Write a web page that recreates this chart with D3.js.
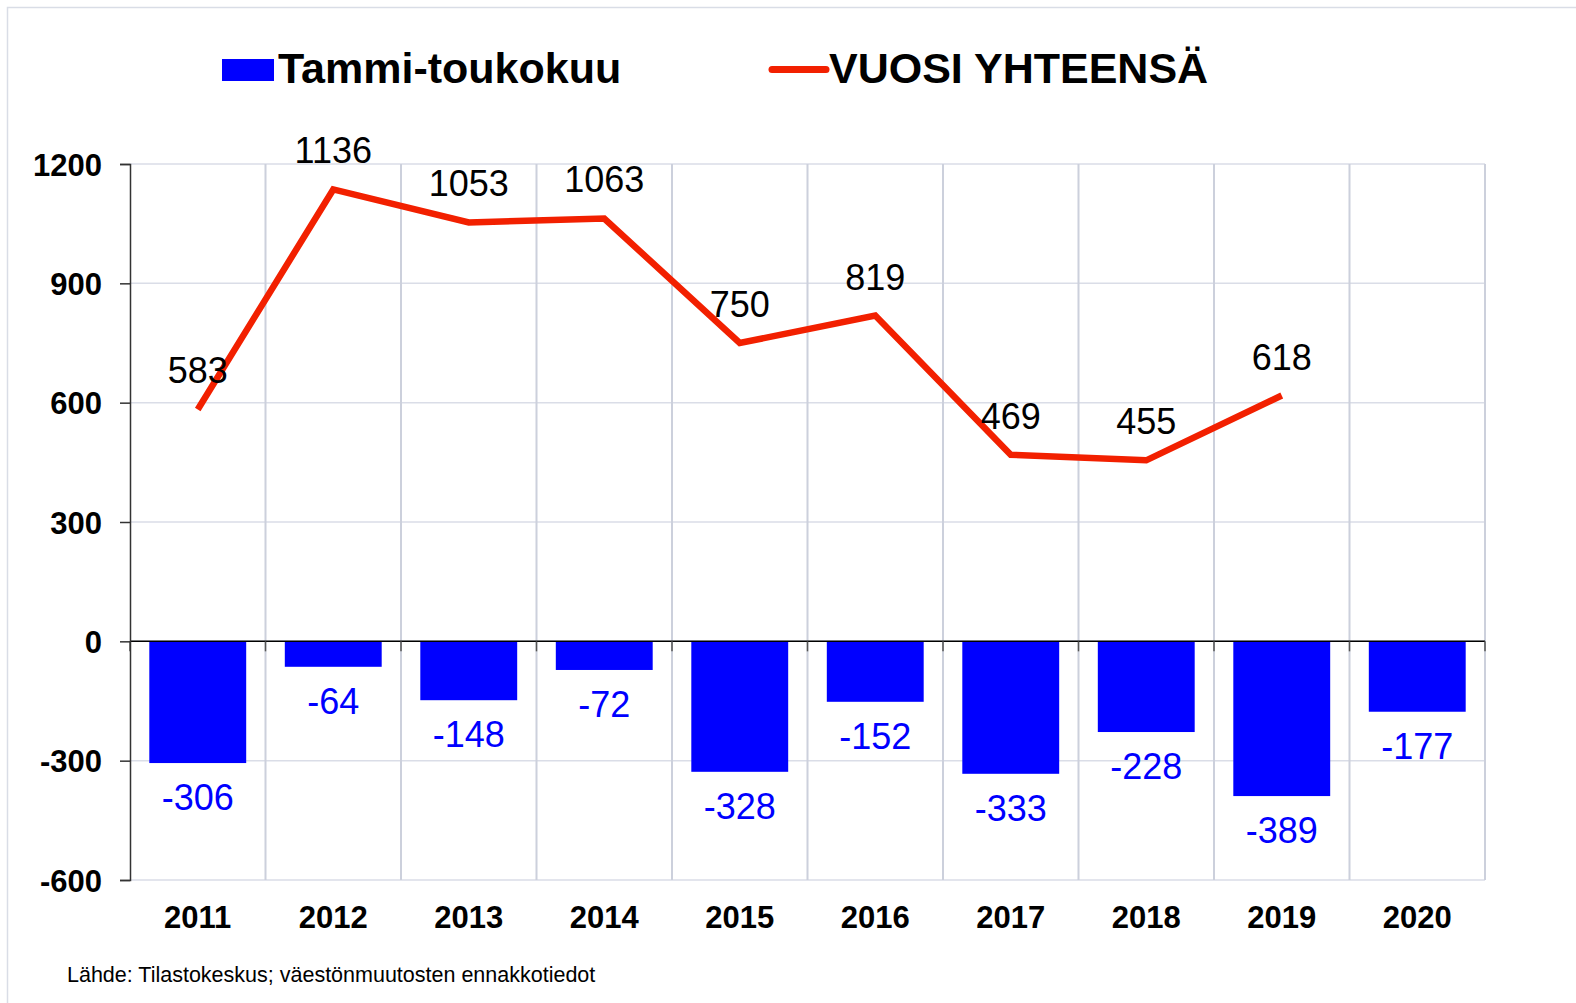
<!DOCTYPE html>
<html>
<head>
<meta charset="utf-8">
<script src="https://cdn.jsdelivr.net/npm/d3@7"></script>
<style>
  body { margin: 0; background: #fff; }
  svg { display: block; font-family: "Liberation Sans", Arial, sans-serif; }
</style>
</head>
<body>
<svg width="1576" height="1003"></svg>
<script>
var years = ["2011", "2012", "2013", "2014", "2015", "2016", "2017", "2018", "2019", "2020"];
var janMay = [-306, -64, -148, -72, -328, -152, -333, -228, -389, -177];
var yearTotal = [583, 1136, 1053, 1063, 750, 819, 469, 455, 618, null];
var yTicks = [-600, -300, 0, 300, 600, 900, 1200];
var legendLabels = ["Tammi-toukokuu", "VUOSI YHTEENSÄ"];
var sourceText = "Lähde: Tilastokeskus; väestönmuutosten ennakkotiedot";

var svg = d3.select("svg"),
    width = +svg.attr("width"),
    height = +svg.attr("height");

var BLUE = "#0000ff", RED = "#f22000", GRID = "#ccd0dc";

var margin = {left: 130, right: 91, top: 164, bottom: 123};

var x = d3.scaleBand()
    .domain(years)
    .range([margin.left, width - margin.right])
    .paddingInner(0.285)
    .paddingOuter(0.1425);

var xCell = d3.scaleBand()
    .domain(years)
    .range([margin.left, width - margin.right]);

var y = d3.scaleLinear()
    .domain([-600, 1200])
    .range([height - margin.bottom, margin.top]);

// outer frame
svg.append("rect")
    .attr("x", 7.5).attr("y", 7.5)
    .attr("width", 1700).attr("height", 1200)
    .attr("fill", "none")
    .attr("stroke", "#d9dde6")
    .attr("stroke-width", 1.5);

// horizontal grid
svg.append("g")
  .selectAll("line")
    .data(yTicks)
  .enter().append("line")
    .attr("x1", margin.left).attr("x2", width - margin.right)
    .attr("y1", function(d) { return y(d); })
    .attr("y2", function(d) { return y(d); })
    .attr("stroke", "#dadde7")
    .attr("stroke-width", 1.5);

// vertical grid at category boundaries
svg.append("g")
  .selectAll("line")
    .data(years.slice(1).concat(["end"]))
  .enter().append("line")
    .attr("x1", function(d) { return d == "end" ? width - margin.right : xCell(d); })
    .attr("x2", function(d) { return d == "end" ? width - margin.right : xCell(d); })
    .attr("y1", y(1200)).attr("y2", y(-600))
    .attr("stroke", GRID)
    .attr("stroke-width", 2);

// bars
svg.append("g")
  .selectAll("rect")
    .data(janMay)
  .enter().append("rect")
    .attr("x", function(d, i) { return x(years[i]); })
    .attr("width", x.bandwidth())
    .attr("y", y(0))
    .attr("height", function(d) { return y(d) - y(0); })
    .attr("fill", BLUE);

// x axis line at zero with small ticks
var xAxis = d3.axisBottom(xCell)
    .tickSize(10)
    .tickFormat("");
var gx = svg.append("g")
    .attr("transform", "translate(0," + y(0) + ")")
    .call(xAxis);
gx.select(".domain").attr("stroke", "#000").attr("stroke-width", 1.5).attr("d", "M" + margin.left + ",0H" + (width - margin.right));
gx.selectAll(".tick").attr("transform", function(d) { return "translate(" + xCell(d) + ",0)"; });
gx.selectAll(".tick line").attr("stroke", "#555").attr("stroke-width", 1.5);
gx.append("g").attr("transform", "translate(" + (width - margin.right) + ",0)")
  .append("line").attr("y2", 10).attr("stroke", "#555").attr("stroke-width", 1.5);

// y axis
var yAxis = d3.axisLeft(y)
    .tickValues(yTicks)
    .tickSize(10)
    .tickPadding(18)
    .tickFormat(d3.format("d"));
var gy = svg.append("g")
    .attr("transform", "translate(" + margin.left + ",0)")
    .call(yAxis);
gy.select(".domain").attr("stroke", "#333").attr("stroke-width", 1.5);
gy.selectAll(".tick line").attr("stroke", "#333").attr("stroke-width", 1.5);
gy.selectAll(".tick text")
    .attr("font-family", "Liberation Sans, Arial, sans-serif")
    .attr("font-size", 31)
    .attr("font-weight", "bold")
    .attr("fill", "#000")
    .attr("dy", "0.36em")
    .text(function(d) { return d < 0 ? "-" + Math.abs(d) : d; });

// x category labels
svg.append("g")
  .selectAll("text")
    .data(years)
  .enter().append("text")
    .attr("x", function(d) { return xCell(d) + xCell.bandwidth() / 2; })
    .attr("y", y(-600) + 48)
    .attr("text-anchor", "middle")
    .attr("font-size", 31)
    .attr("font-weight", "bold")
    .text(function(d) { return d; });

// line
var lineData = yearTotal.map(function(v, i) { return {year: years[i], v: v}; })
    .filter(function(d) { return d.v != null; });
var line = d3.line()
    .x(function(d) { return xCell(d.year) + xCell.bandwidth() / 2; })
    .y(function(d) { return y(d.v); });
svg.append("path")
    .datum(lineData)
    .attr("d", line)
    .attr("fill", "none")
    .attr("stroke", RED)
    .attr("stroke-width", 6.5)
    .attr("stroke-linejoin", "miter");

// bar value labels
svg.append("g")
  .selectAll("text")
    .data(janMay)
  .enter().append("text")
    .attr("x", function(d, i) { return xCell(years[i]) + xCell.bandwidth() / 2; })
    .attr("y", function(d) { return y(d) + 47; })
    .attr("text-anchor", "middle")
    .attr("font-size", 36)
    .attr("fill", BLUE)
    .text(function(d) { return "-" + Math.abs(d); });

// line value labels
svg.append("g")
  .selectAll("text")
    .data(lineData)
  .enter().append("text")
    .attr("x", function(d) { return xCell(d.year) + xCell.bandwidth() / 2; })
    .attr("y", function(d) { return y(d.v) - 26; })
    .attr("text-anchor", "middle")
    .attr("font-size", 36)
    .attr("fill", "#000")
    .text(function(d) { return d.v; });

// legend
var leg = svg.append("g");
leg.append("rect")
    .attr("x", 222).attr("y", 59)
    .attr("width", 52).attr("height", 22)
    .attr("fill", BLUE);
leg.append("text")
    .attr("x", 278).attr("y", 83)
    .attr("font-size", 43)
    .attr("font-weight", "bold")
    .text(legendLabels[0]);
leg.append("line")
    .attr("x1", 772).attr("x2", 826)
    .attr("y1", 69.5).attr("y2", 69.5)
    .attr("stroke", RED)
    .attr("stroke-width", 7)
    .attr("stroke-linecap", "round");
leg.append("text")
    .attr("x", 829).attr("y", 83)
    .attr("font-size", 43)
    .attr("font-weight", "bold")
    .text(legendLabels[1]);

// source
svg.append("text")
    .attr("x", 67).attr("y", 982)
    .attr("font-size", 21.5)
    .attr("fill", "#000")
    .text(sourceText);
</script>
</body>
</html>
